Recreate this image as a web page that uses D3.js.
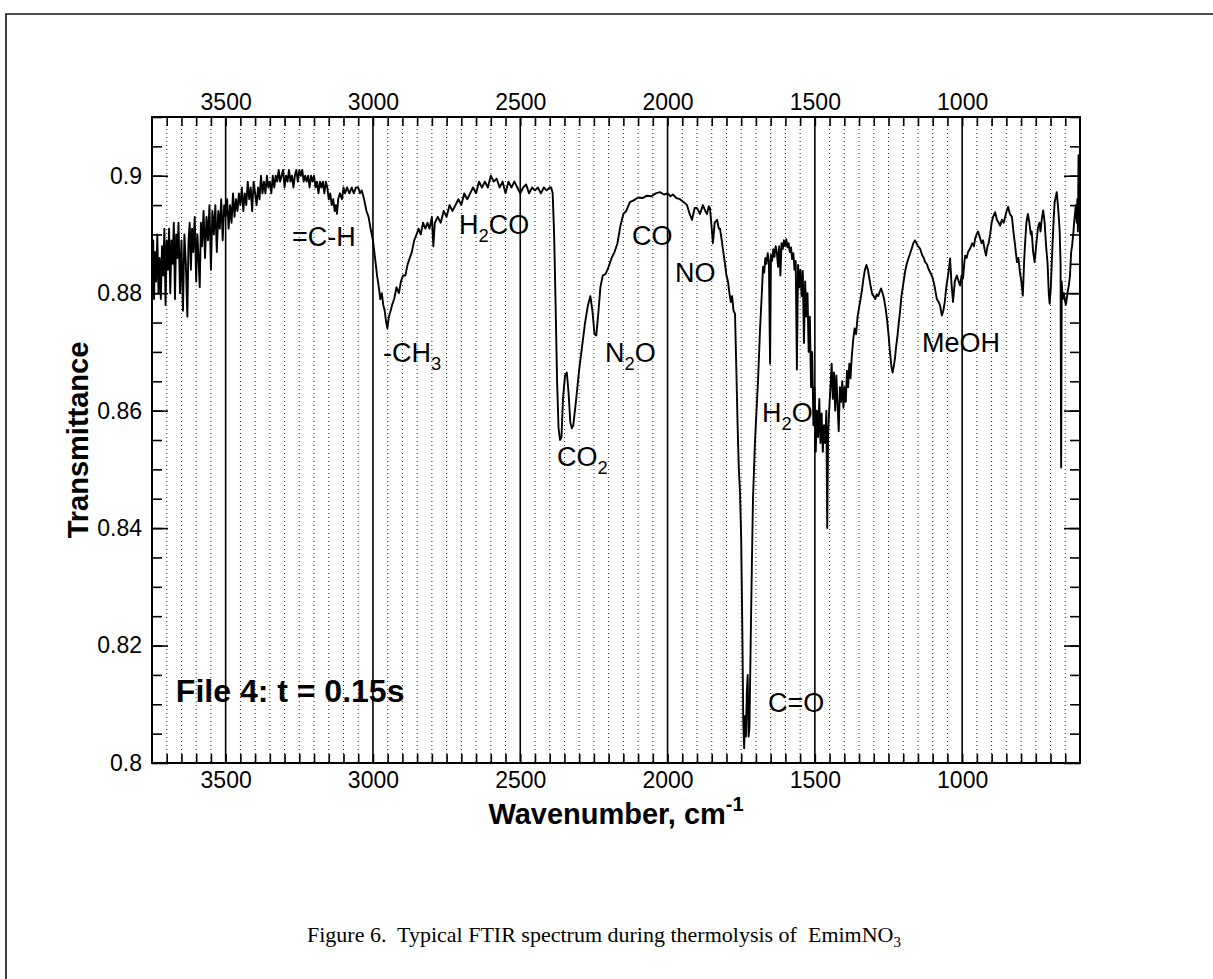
<!DOCTYPE html>
<html>
<head>
<meta charset="utf-8">
<script src="https://cdn.jsdelivr.net/npm/d3@7"></script>
<style>
  html, body { margin: 0; padding: 0; background: #fff; }
  svg { display: block; }
</style>
</head>
<body>
<svg id="chart" width="1213" height="979"></svg>
<script>
// FTIR spectrum of EmimNO3 thermolysis products (File 4, t = 0.15 s)
const wavenumber = [
  3750,3746,3743,3740,3736,3732,3728,3724,3720,3716,3712,3708,3704,3700,3696,3692,3688,3684,3680,3676,
  3672,3668,3664,3660,3655,3650,3645,3640,3635,3630,3626,3622,3618,3614,3610,3605,3600,3596,3592,3588,
  3584,3580,3575,3570,3565,3560,3555,3550,3545,3540,3535,3530,3525,3520,3515,3510,3505,3500,3495,3490,
  3485,3480,3475,3470,3465,3460,3455,3450,3445,3440,3435,3430,3425,3420,3415,3410,3405,3400,3395,3390,
  3385,3380,3375,3370,3365,3360,3355,3350,3345,3340,3335,3330,3325,3320,3315,3310,3305,3300,3295,3290,
  3285,3280,3275,3270,3265,3260,3255,3250,3245,3240,3235,3230,3225,3220,3215,3210,3205,3200,3195,3190,
  3185,3180,3175,3170,3165,3160,3155,3150,3145,3140,3135,3130,3126,3122,3118,3112,3105,3100,3095,3088,
  3080,3072,3065,3058,3050,3044,3038,3030,3022,3015,3008,3000,2993,2986,2980,2975,2970,2965,2960,2955,
  2951,2946,2940,2935,2928,2920,2912,2905,2898,2890,2882,2875,2868,2860,2852,2845,2838,2830,2822,2815,
  2808,2800,2795,2790,2780,2770,2760,2750,2740,2730,2720,2710,2700,2690,2680,2670,2660,2650,2640,2630,
  2620,2610,2600,2590,2580,2570,2560,2550,2540,2530,2520,2510,2500,2490,2480,2470,2460,2450,2440,2430,
  2420,2410,2400,2395,2390,2385,2380,2375,2370,2365,2360,2355,2348,2342,2336,2330,2325,2320,2310,2300,
  2290,2280,2270,2262,2255,2248,2242,2236,2228,2220,2210,2200,2190,2180,2170,2160,2150,2140,2128,2115,
  2100,2085,2070,2055,2040,2026,2012,2000,1990,1982,1970,1958,1945,1934,1925,1917,1908,1900,1890,1880,
  1872,1866,1860,1856,1850,1846,1840,1832,1826,1822,1816,1812,1805,1800,1795,1790,1785,1781,1776,1771,
  1766,1762,1758,1754,1750,1746,1743,1740,1737,1734,1731,1728,1725,1722,1718,1714,1710,1703,1697,1693,
  1686,1680,1676,1672,1668,1664,1660,1656,1652,1649,1645,1641,1637,1633,1629,1625,1621,1617,1613,1609,
  1605,1601,1597,1593,1589,1585,1581,1577,1573,1569,1565,1561,1557,1553,1549,1545,1541,1537,1533,1529,
  1525,1521,1517,1513,1509,1505,1501,1497,1493,1489,1485,1481,1477,1473,1469,1465,1461,1458,1455,1451,
  1447,1443,1439,1435,1431,1427,1423,1419,1415,1411,1407,1403,1399,1395,1391,1387,1383,1379,1375,1370,
  1365,1360,1355,1350,1345,1340,1335,1330,1325,1320,1315,1310,1305,1300,1295,1290,1285,1280,1275,1270,
  1265,1260,1255,1250,1245,1240,1236,1232,1228,1224,1220,1215,1211,1206,1200,1194,1188,1182,1177,1170,
  1165,1160,1155,1150,1143,1136,1130,1126,1120,1115,1109,1103,1099,1093,1086,1080,1075,1069,1064,1059,
  1054,1048,1044,1041,1036,1031,1025,1018,1012,1007,1002,997,993,990,985,980,973,966,960,956,
  951,946,940,934,929,924,919,914,910,905,900,895,888,882,876,871,865,859,854,849,
  844,838,831,826,820,814,809,804,799,794,790,787,782,777,772,767,764,759,754,749,
  743,738,734,730,725,720,715,710,706,703,699,696,693,689,686,682,679,675,672,669,
  666,664,662,659,655,652,648,645,641,638,634,630,627,623,620,617,614,611,609,607,
  605,603,601,600
];

const transmittance = [
  0.884,0.889,0.879,0.887,0.882,0.890,0.880,0.886,0.879,0.888,0.883,0.891,0.878,0.889,0.884,0.891,0.880,0.889,0.885,0.892,
  0.879,0.890,0.886,0.892,0.880,0.889,0.877,0.890,0.885,0.876,0.889,0.892,0.884,0.891,0.887,0.893,0.882,0.890,0.886,0.881,
  0.892,0.888,0.894,0.886,0.893,0.889,0.895,0.884,0.894,0.890,0.895,0.887,0.894,0.891,0.896,0.889,0.895,0.893,0.896,0.891,
  0.895,0.892,0.897,0.893,0.896,0.894,0.897,0.895,0.898,0.894,0.897,0.895,0.899,0.896,0.898,0.894,0.899,0.897,0.895,0.898,
  0.896,0.900,0.897,0.899,0.897,0.900,0.898,0.899,0.897,0.900,0.898,0.900,0.899,0.901,0.899,0.900,0.901,0.898,0.900,0.899,
  0.901,0.899,0.900,0.898,0.900,0.901,0.899,0.901,0.900,0.901,0.899,0.900,0.899,0.900,0.898,0.900,0.899,0.900,0.898,0.899,
  0.897,0.899,0.898,0.899,0.897,0.899,0.898,0.896,0.897,0.895,0.896,0.894,0.895,0.8935,0.896,0.897,0.896,0.898,0.897,0.898,
  0.897,0.898,0.897,0.898,0.898,0.897,0.8975,0.896,0.894,0.893,0.891,0.889,0.886,0.883,0.881,0.879,0.880,0.878,0.877,0.875,
  0.874,0.876,0.877,0.878,0.879,0.881,0.880,0.882,0.883,0.883,0.885,0.886,0.887,0.889,0.890,0.891,0.890,0.892,0.891,0.892,
  0.891,0.893,0.888,0.892,0.893,0.892,0.894,0.893,0.895,0.894,0.895,0.896,0.895,0.897,0.896,0.897,0.898,0.897,0.899,0.898,
  0.899,0.898,0.900,0.899,0.8995,0.898,0.899,0.897,0.899,0.898,0.899,0.898,0.897,0.898,0.8985,0.897,0.898,0.8975,0.898,0.897,
  0.898,0.8975,0.898,0.898,0.897,0.890,0.878,0.865,0.857,0.855,0.8555,0.862,0.866,0.8665,0.863,0.858,0.857,0.8575,0.862,0.867,
  0.871,0.875,0.878,0.8795,0.877,0.873,0.8728,0.876,0.881,0.883,0.8833,0.8845,0.886,0.887,0.8885,0.8915,0.8935,0.894,0.8955,0.8958,
  0.8963,0.8962,0.8966,0.8965,0.897,0.8972,0.8968,0.897,0.8965,0.8968,0.8962,0.896,0.8955,0.895,0.8935,0.8925,0.8945,0.8945,0.8935,0.895,
  0.894,0.8935,0.8948,0.8945,0.891,0.8885,0.892,0.8925,0.891,0.891,0.889,0.8875,0.885,0.883,0.882,0.880,0.8785,0.8795,0.877,0.8765,
  0.866,0.857,0.850,0.846,0.838,0.822,0.807,0.8025,0.808,0.8045,0.812,0.815,0.8045,0.806,0.820,0.833,0.845,0.855,0.861,0.865,
  0.874,0.880,0.8845,0.8835,0.886,0.885,0.8868,0.8855,0.868,0.8865,0.8855,0.8875,0.8862,0.888,0.887,0.8845,0.888,0.883,0.8885,0.8875,
  0.889,0.888,0.8892,0.8878,0.8885,0.887,0.8878,0.8858,0.8868,0.884,0.8855,0.867,0.8848,0.881,0.884,0.8795,0.8838,0.8715,0.882,0.876,
  0.880,0.870,0.876,0.864,0.870,0.8575,0.864,0.853,0.860,0.8555,0.862,0.8545,0.8595,0.853,0.8575,0.8545,0.860,0.840,0.856,0.8605,
  0.864,0.868,0.862,0.8665,0.860,0.866,0.861,0.8565,0.864,0.8615,0.865,0.8605,0.864,0.8615,0.8668,0.864,0.868,0.8655,0.869,0.872,
  0.874,0.873,0.876,0.8775,0.879,0.8805,0.8825,0.884,0.8848,0.884,0.8825,0.881,0.8798,0.8795,0.879,0.8798,0.8795,0.8802,0.8808,0.880,
  0.879,0.8775,0.8755,0.873,0.870,0.8675,0.8665,0.8675,0.869,0.871,0.8725,0.875,0.8768,0.8795,0.8815,0.8836,0.885,0.886,0.8867,0.8878,
  0.8886,0.889,0.8885,0.888,0.8876,0.8865,0.886,0.8853,0.885,0.8842,0.8836,0.883,0.8824,0.881,0.879,0.8785,0.8779,0.8762,0.877,0.8785,
  0.881,0.883,0.8845,0.8859,0.8815,0.8785,0.882,0.883,0.882,0.8813,0.883,0.8825,0.885,0.8864,0.886,0.887,0.8876,0.8885,0.888,0.8893,
  0.890,0.8905,0.8895,0.8885,0.889,0.8875,0.8864,0.888,0.8885,0.890,0.892,0.893,0.8938,0.8925,0.892,0.8915,0.8925,0.892,0.893,0.894,
  0.8947,0.8935,0.893,0.8905,0.888,0.8853,0.886,0.8836,0.882,0.8796,0.885,0.888,0.892,0.8935,0.892,0.890,0.8905,0.887,0.8853,0.888,
  0.891,0.892,0.8905,0.8925,0.8941,0.892,0.888,0.885,0.880,0.8782,0.881,0.885,0.8885,0.893,0.8955,0.8965,0.8972,0.895,0.893,0.8905,
  0.885,0.8503,0.882,0.879,0.880,0.879,0.878,0.879,0.8805,0.8813,0.883,0.887,0.888,0.890,0.892,0.8935,0.895,0.892,0.896,0.8905,
  0.9035,0.893,0.896,0.894
];

// Axis ticks and labels
const xMajorTicks = [3500, 3000, 2500, 2000, 1500, 1000];
const yMajorTicks = [0.8, 0.82, 0.84, 0.86, 0.88, 0.9];

// Band assignments, anchored at (wavenumber, transmittance); "_" marks a subscript digit
const bandLabels = ["=C-H", "H_2CO", "-CH_3", "N_2O", "CO_2", "CO", "NO", "H_2O", "MeOH", "C=O"];
const bandWavenumber = [3275, 2708, 2966, 2212, 2375, 2121, 1975, 1679, 1136, 1659];
const bandTransmittance = [0.888, 0.890, 0.8682, 0.8682, 0.8505, 0.8882, 0.8819, 0.858, 0.870, 0.8087];

const runLabel = "File 4: t = 0.15s";
const runLabelAt = [3669, 0.8104];

const xTitle = "Wavenumber, cm";
const xTitleSup = "-1";
const yTitle = "Transmittance";
const caption = "Figure 6.  Typical FTIR spectrum during thermolysis of  EmimNO";
const captionSub = "3";

const SANS = "'Liberation Sans', Arial, Helvetica, sans-serif";
const SERIF = "'Liberation Serif', 'Times New Roman', serif";

const svg = d3.select("#chart");
const W = 1213, H = 979;
const plotL = 152, plotR = 1080, plotT = 117, plotB = 763;

svg.append("rect").attr("width", W).attr("height", H).attr("fill", "#fff");

// page frame
svg.append("path")
  .attr("d", `M6,${H} L6,14 L${W},14`)
  .attr("fill", "none").attr("stroke", "#111").attr("stroke-width", 1.6);

const x = d3.scaleLinear().domain([3750, 600]).range([plotL, plotR]);
const y = d3.scaleLinear().domain([0.8, 0.91]).range([plotB, plotT]);

const xMinor = d3.range(3700, 600, -50);
const yMinor = d3.range(0.805, 0.9101, 0.005).map(v => +v.toFixed(3));

// dotted grid every 50 cm-1, solid at labelled wavenumbers
const grid = svg.append("g");
grid.selectAll("line.minor")
  .data(xMinor.filter(v => !xMajorTicks.includes(v)))
  .join("line")
  .attr("x1", d => x(d)).attr("x2", d => x(d))
  .attr("y1", plotT).attr("y2", plotB)
  .attr("stroke", "#222").attr("stroke-width", 1)
  .attr("stroke-dasharray", "1,3");
grid.selectAll("line.major")
  .data(xMajorTicks)
  .join("line")
  .attr("x1", d => x(d)).attr("x2", d => x(d))
  .attr("y1", plotT).attr("y2", plotB)
  .attr("stroke", "#000").attr("stroke-width", 1.6);

// spectrum
const pts = wavenumber.map((w, i) => [w, transmittance[i]]);
svg.append("path")
  .datum(pts)
  .attr("fill", "none")
  .attr("stroke", "#000")
  .attr("stroke-width", 1.9)
  .attr("stroke-linejoin", "round")
  .attr("d", d3.line().x(d => x(d[0])).y(d => y(d[1])));

// axes: inward ticks on all four sides
function styleAxis(g) {
  g.select(".domain").remove();
  g.selectAll("line").attr("stroke", "#000").attr("stroke-width", 1.6);
  g.selectAll("text").attr("font-family", SANS).attr("font-size", 23).attr("fill", "#000");
}
const fmt = v => String(+v.toFixed(2));

svg.append("g").attr("transform", `translate(0,${plotB})`)
  .call(d3.axisBottom(x).tickValues(xMinor).tickSize(-9).tickFormat(""))
  .call(styleAxis);
svg.append("g").attr("transform", `translate(0,${plotB})`)
  .call(d3.axisBottom(x).tickValues(xMajorTicks).tickSize(0).tickPadding(9).tickFormat(d3.format("d")))
  .call(styleAxis);
svg.append("g").attr("transform", `translate(0,${plotT})`)
  .call(d3.axisTop(x).tickValues(xMinor).tickSize(-9).tickFormat(""))
  .call(styleAxis);
svg.append("g").attr("transform", `translate(0,${plotT})`)
  .call(d3.axisTop(x).tickValues(xMajorTicks).tickSize(0).tickPadding(7).tickFormat(d3.format("d")))
  .call(styleAxis);

svg.append("g").attr("transform", `translate(${plotL},0)`)
  .call(d3.axisLeft(y).tickValues(yMinor).tickSize(-10).tickFormat(""))
  .call(styleAxis);
svg.append("g").attr("transform", `translate(${plotL},0)`)
  .call(d3.axisLeft(y).tickValues(yMajorTicks).tickSize(-16).tickPadding(10).tickFormat(fmt))
  .call(styleAxis);
svg.append("g").attr("transform", `translate(${plotR},0)`)
  .call(d3.axisRight(y).tickValues(yMinor).tickSize(-10).tickFormat(""))
  .call(styleAxis);
svg.append("g").attr("transform", `translate(${plotR},0)`)
  .call(d3.axisRight(y).tickValues(yMajorTicks).tickSize(-16).tickFormat(""))
  .call(styleAxis);

// plot frame
svg.append("rect")
  .attr("x", plotL).attr("y", plotT)
  .attr("width", plotR - plotL).attr("height", plotB - plotT)
  .attr("fill", "none").attr("stroke", "#000").attr("stroke-width", 2);

// text with "_n" subscripts
function richText(sel, str, size) {
  const parts = str.split(/_(\d)/);
  parts.forEach((p, i) => {
    if (!p) return;
    const sub = i % 2 === 1;
    sel.append("tspan")
      .attr("font-size", sub ? size * 0.68 : size)
      .attr("dy", sub ? size * 0.28 : (i > 0 ? -size * 0.28 : 0))
      .text(p);
  });
}

const labels = svg.append("g").attr("font-family", SANS).attr("fill", "#000");
bandLabels.forEach((t, i) => {
  const txt = labels.append("text")
    .attr("x", x(bandWavenumber[i]))
    .attr("y", y(bandTransmittance[i]));
  richText(txt, t, 27);
});

svg.append("text")
  .attr("x", x(runLabelAt[0])).attr("y", y(runLabelAt[1]))
  .attr("font-family", SANS).attr("font-weight", "bold").attr("font-size", 32)
  .text(runLabel);

// axis titles
const xt = svg.append("text")
  .attr("x", (plotL + plotR) / 2).attr("y", 824)
  .attr("text-anchor", "middle")
  .attr("font-family", SANS).attr("font-weight", "bold").attr("font-size", 29);
xt.append("tspan").text(xTitle);
xt.append("tspan").attr("font-size", 20).attr("dy", -13).text(xTitleSup);

svg.append("text")
  .attr("transform", `translate(88,${(plotT + plotB) / 2}) rotate(-90)`)
  .attr("text-anchor", "middle")
  .attr("font-family", SANS).attr("font-weight", "bold").attr("font-size", 29)
  .text(yTitle);

// figure caption
const cap = svg.append("text")
  .attr("x", 604).attr("y", 942)
  .attr("text-anchor", "middle")
  .attr("font-family", SERIF).attr("font-size", 22)
  .attr("xml:space", "preserve").style("white-space", "pre");
cap.append("tspan").text(caption);
cap.append("tspan").attr("font-size", 15).attr("dy", 5).text(captionSub);
</script>
</body>
</html>
